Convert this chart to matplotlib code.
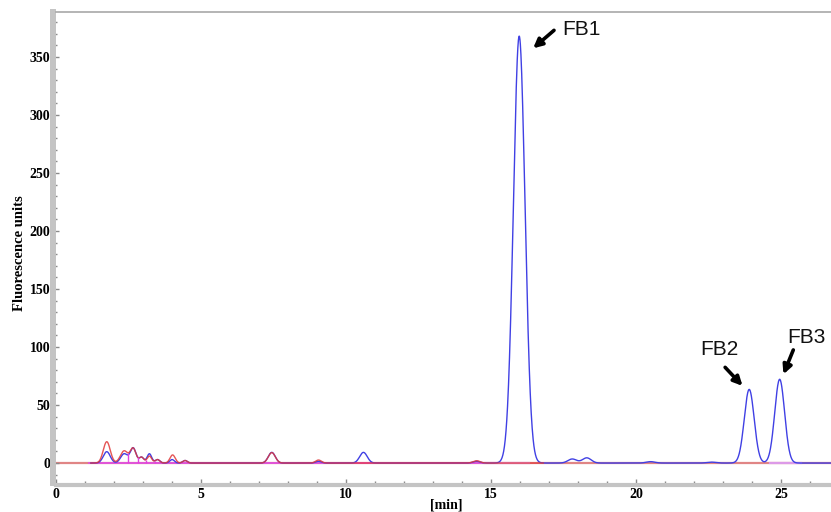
import matplotlib
matplotlib.use("Agg")
import matplotlib.pyplot as plt
import numpy as np
from matplotlib.ticker import MultipleLocator

# peak tables: retention time [min], height, sigma [min]
blue_rt = [1.75, 2.35, 2.66, 2.95, 3.22, 3.50, 4.00, 4.45, 7.44, 9.05, 10.60,
           14.50, 15.97, 17.80, 18.30, 20.50, 22.60, 23.90, 24.95]
blue_h = [9.8, 8.0, 13.0, 5.0, 8.0, 3.0, 3.0, 2.2, 9.2, 1.5, 9.2,
          1.5, 368.0, 3.5, 4.5, 1.2, 0.8, 63.5, 72.2]
blue_w = [0.12, 0.12, 0.10, 0.08, 0.08, 0.08, 0.08, 0.08, 0.12, 0.10, 0.13,
          0.12, 0.20, 0.15, 0.15, 0.15, 0.15, 0.17, 0.17]

red_rt = [1.75, 2.35, 2.66, 2.95, 3.22, 3.50, 4.02, 4.45, 7.44, 9.05, 14.50]
red_h = [18.4, 10.5, 12.5, 5.0, 6.0, 3.0, 7.0, 2.2, 9.0, 2.6, 2.0]
red_w = [0.12, 0.13, 0.10, 0.08, 0.08, 0.08, 0.09, 0.08, 0.12, 0.10, 0.12]

# integration drop lines (magenta) and integration baselines
drop_rt = [2.47, 2.82, 3.10, 3.40]
magenta_base = [(1.15, 14.8)]
violet_base = [(14.8, 16.3), (24.6, 25.7)]

labels = ["FB1", "FB2", "FB3"]
label_xy = [(18.1, 374.0), (22.86, 98.0), (25.86, 108.0)]
arrow_tail = [(17.17, 373.0), (23.07, 82.5), (25.42, 97.5)]
arrow_head = [(16.45, 357.5), (23.67, 66.5), (25.08, 76.5)]

t_end = 26.72


def trace(t, rt, h, w):
    y = np.zeros_like(t)
    for c, a, s in zip(rt, h, w):
        y += a * np.exp(-0.5 * ((t - c) / s) ** 2)
    return y


t = np.linspace(0, t_end, 4000)
blue = trace(t, blue_rt, blue_h, blue_w)
red = trace(t, red_rt, red_h, red_w)

fig = plt.figure(figsize=(8.31, 5.12), dpi=100)
ax = fig.add_axes([56 / 831, 1 - 483 / 512, 1 - 56 / 831, (483 - 12) / 512])

ax.plot([0, t_end], [0, 0], color="#e08585", lw=1.6, zorder=1)
for a, b in magenta_base:
    ax.plot([a, b], [0, 0], color="#e050e0", lw=1.3, zorder=2)
for a, b in violet_base:
    ax.plot([a, b], [0, 0], color="#dc9ae8", lw=1.6, zorder=2)

mask_b = t >= 1.2
ax.plot(t[mask_b], blue[mask_b], color="#4040e4", lw=1.0, zorder=3)
mask_r = (t >= 1.2) & (t <= 16.8)
ax.plot(t[mask_r], red[mask_r], color="#e03838", lw=1.0, alpha=0.85, zorder=4)

drop_h = np.interp(drop_rt, t, red)
ax.vlines(drop_rt, 0, drop_h, color="#e040e0", lw=1.0, zorder=5)

for lab, pos, tail, head in zip(labels, label_xy, arrow_tail, arrow_head):
    ax.annotate("", xy=head, xytext=tail,
                arrowprops=dict(arrowstyle="-|>", color="black", lw=2.6,
                                mutation_scale=13, shrinkA=0, shrinkB=0))
    ax.text(pos[0], pos[1], lab, fontsize=15, family="Liberation Sans",
            ha="center", va="center", color="#111111")

ax.set_xlim(0, t_end)
ax.set_ylim(-17.2, 388.8)

ax.xaxis.set_major_locator(MultipleLocator(5))
ax.xaxis.set_minor_locator(MultipleLocator(1))
ax.yaxis.set_major_locator(MultipleLocator(50))
ax.yaxis.set_minor_locator(MultipleLocator(10))

ax.spines["right"].set_visible(False)
ax.spines["top"].set_color("#a8a8a8")
ax.spines["top"].set_linewidth(1.2)
ax.spines["left"].set_color("#c4c4c4")
ax.spines["left"].set_linewidth(4.3)
ax.spines["left"].set_position(("outward", 2.2))
ax.spines["bottom"].set_color("#c4c4c4")
ax.spines["bottom"].set_linewidth(3.0)
ax.spines["bottom"].set_position(("outward", 1.4))

ax.tick_params(which="both", direction="in", color="#8a8a8a", width=1,
               labelsize=10, pad=2)
ax.tick_params(which="major", length=4)
ax.tick_params(which="minor", length=3)
for lbl in ax.get_xticklabels() + ax.get_yticklabels():
    lbl.set_family("Liberation Serif")
    lbl.set_fontweight("bold")

fig.text(446 / 831, 1 - 505 / 512, "[min]", family="Liberation Serif",
         fontweight="bold", fontsize=10, ha="center", va="center")
fig.text(20 / 831, 1 - 253 / 512, "Fluorescence units", family="Liberation Serif",
         fontweight="bold", fontsize=10.5, ha="center", va="center", rotation=90)

fig.savefig("out.png", dpi=100)
